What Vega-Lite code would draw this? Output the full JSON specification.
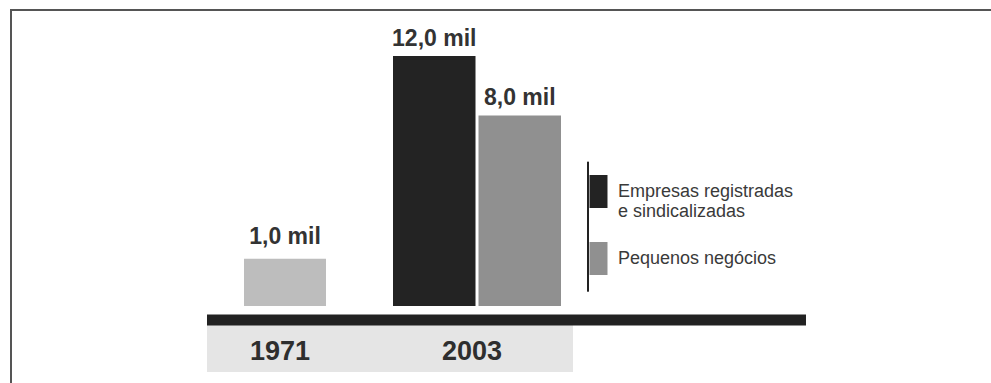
{
  "$schema": "https://vega.github.io/schema/vega-lite/v6.json",
  "width": 982,
  "height": 375,
  "autosize": {"type": "none"},
  "padding": {"left": 11, "top": 10, "right": -2, "bottom": -2},
  "background": "#ffffff",
  "config": {
    "view": {"stroke": "#555555", "strokeWidth": 2},
    "font": "Liberation Sans"
  },
  "data": {
    "values": [
      {"year": "1971", "series": "Total", "value": 1, "label": "1,0 mil"},
      {"year": "2003", "series": "Empresas registradas e sindicalizadas", "value": 12, "label": "12,0 mil"},
      {"year": "2003", "series": "Pequenos negócios", "value": 8, "label": "8,0 mil"}
    ]
  },
  "layer": [
    {
      "data": {"values": [{}]},
      "mark": {"type": "rect", "color": "#e5e5e5"},
      "encoding": {
        "x": {
          "datum": "1971", "type": "nominal", "bandPosition": 0.0357,
          "scale": {"domain": ["1971", "2003"], "range": [190, 550], "paddingInner": 0.125, "paddingOuter": 0},
          "axis": {
            "orient": "bottom", "offset": -65, "domain": false, "ticks": false, "grid": false,
            "labelFont": "Liberation Sans", "labelFontWeight": "bold", "labelFontSize": 27, "labelColor": "#2e2e2e",
            "labelBaseline": "alphabetic", "labelPadding": 39, "labelOffset": -5, "labelAngle": 0, "title": null, "zindex": 2
          }
        },
        "x2": {"datum": "2003", "bandPosition": 1.0714},
        "y": {"datum": -0.2564, "type": "quantitative", "scale": {"type": "pow", "exponent": 0.67, "domain": [-2.15, 15.44], "nice": false, "zero": false}, "axis": null},
        "y2": {"datum": -1.644}
      }
    },
    {
      "data": {"values": [{}]},
      "mark": {"type": "rule", "color": "#222222", "strokeWidth": 11},
      "encoding": {
        "x": {"datum": "1971", "type": "nominal", "bandPosition": 0.0357},
        "x2": {"datum": "2003", "bandPosition": 2.4583},
        "y": {"datum": -0.1625, "type": "quantitative", "axis": null}
      }
    },
    {
      "data": {"values": [{}]},
      "mark": {"type": "rule", "color": "#222222", "strokeWidth": 2},
      "encoding": {
        "x": {"datum": "2003", "type": "nominal", "bandPosition": 1.1607},
        "y": {"datum": 5.285, "type": "quantitative", "axis": null},
        "y2": {"datum": 0.1677}
      }
    },
    {
      "transform": [{"filter": "datum.year == '1971'"}],
      "layer": [
        {
          "mark": {"type": "bar", "color": "#bdbdbd", "width": {"band": 0.488}},
          "encoding": {
            "x": {"field": "year", "type": "nominal"},
            "y": {"field": "value", "type": "quantitative", "axis": null}
          }
        },
        {
          "mark": {"type": "text", "font": "Liberation Sans", "fontWeight": "bold", "fontSize": 23, "color": "#333333", "baseline": "alphabetic", "dy": -15},
          "encoding": {
            "x": {"field": "year", "type": "nominal"},
            "y": {"field": "value", "type": "quantitative", "axis": null},
            "text": {"field": "label"}
          }
        }
      ]
    },
    {
      "transform": [{"filter": "datum.year == '2003'"}],
      "layer": [
        {
          "mark": {"type": "bar"},
          "encoding": {
            "x": {"field": "year", "type": "nominal"},
            "xOffset": {"field": "series", "type": "nominal", "scale": {"paddingInner": 0.035, "paddingOuter": 0}},
            "y": {"field": "value", "type": "quantitative", "axis": null},
            "color": {
              "field": "series", "type": "nominal",
              "scale": {"domain": ["Empresas registradas e sindicalizadas", "Pequenos negócios"], "range": ["#232323", "#909090"]},
              "legend": {
                "orient": "none", "legendX": 571, "legendY": 165,
                "title": null, "padding": 0,
                "symbolType": "M-0.545,-1H0.545V1H-0.545Z",
                "symbolSize": 1089, "symbolStrokeWidth": 0, "symbolOpacity": 1,
                "labelFont": "Liberation Sans", "labelFontSize": 18, "labelColor": "#3a3a3a",
                "labelLimit": 400, "labelOffset": 3, "rowPadding": 21,
                "labelExpr": "datum.value == 'Empresas registradas e sindicalizadas' ? ['Empresas registradas', 'e sindicalizadas'] : datum.label",
                "encode": {"labels": {"update": {"lineHeight": {"value": 20}}}}
              }
            }
          }
        },
        {
          "mark": {"type": "text", "font": "Liberation Sans", "fontWeight": "bold", "fontSize": 23, "color": "#333333", "baseline": "alphabetic", "dy": -10},
          "encoding": {
            "x": {"field": "year", "type": "nominal"},
            "xOffset": {"field": "series", "type": "nominal"},
            "y": {"field": "value", "type": "quantitative", "axis": null},
            "text": {"field": "label"}
          }
        }
      ]
    }
  ]
}
